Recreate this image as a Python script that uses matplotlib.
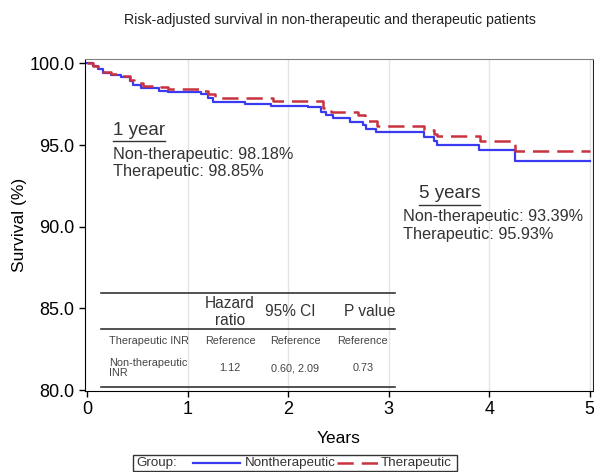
import numpy as np
import matplotlib.pyplot as plt
from matplotlib.lines import Line2D
from matplotlib.patches import Rectangle

plt.rcParams['font.family'] = ['Liberation Sans', 'DejaVu Sans']

# Kurva survival, step function
t_non = [0, 0.06, 0.11, 0.16, 0.24, 0.34, 0.43, 0.46, 0.54, 0.72, 0.81, 1.13, 1.20, 1.25,
         1.57, 1.83, 2.20, 2.33, 2.38, 2.45, 2.62, 2.75, 2.78, 2.87, 3.35, 3.45, 3.48,
         3.90, 4.26, 5.0]
s_non = [100, 99.83, 99.63, 99.42, 99.27, 99.15, 98.9, 98.7, 98.49, 98.32, 98.24, 98.12, 97.87, 97.62,
         97.5, 97.39, 97.3, 97.04, 96.83, 96.63, 96.42, 96.2, 96.0, 95.8, 95.48, 95.24, 95.03,
         94.72, 94.02, 94.02]

t_ther = [0, 0.06, 0.11, 0.16, 0.24, 0.34, 0.43, 0.47, 0.56, 0.74, 0.81, 1.12, 1.20, 1.27,
          1.85, 2.35, 2.43, 2.70, 2.77, 2.88, 3.35, 3.45, 3.48, 3.91, 4.26, 5.0]
s_ther = [100, 99.86, 99.68, 99.48, 99.33, 99.2, 99.0, 98.8, 98.63, 98.55, 98.43, 98.28, 98.12, 97.87,
          97.68, 97.25, 97.0, 96.83, 96.5, 96.15, 95.94, 95.7, 95.53, 95.24, 94.64, 94.64]

# Anotasi
one_year = ["Non-therapeutic: 98.18%", "Therapeutic: 98.85%"]
five_year = ["Non-therapeutic: 93.39%", "Therapeutic: 95.93%"]

# Tabel hazard ratio
tbl_header = ["Hazard\nratio", "95% CI", "P value"]
tbl_rows = ["Therapeutic INR", "Non-therapeutic\nINR"]
tbl_hr = ["Reference", "1.12"]
tbl_ci = ["Reference", "0.60, 2.09"]
tbl_p = ["Reference", "0.73"]

blue = '#3a3af0'
red = '#c8323f'

fig = plt.figure(figsize=(5.94, 4.72), dpi=100)
ax = fig.add_axes([0.1431, 0.1716, 0.8547, 0.7028])

ax.step(t_non, s_non, where='post', color=blue, lw=1.6)
ax.step(t_ther, s_ther, where='post', color=red, lw=1.8, dashes=(6.5, 3.2))

ax.set_xlim(-0.02, 5.03)
ax.set_ylim(79.94, 100.25)
ax.set_xticks([0, 1, 2, 3, 4, 5])
ax.set_yticks([80, 85, 90, 95, 100])
ax.set_yticklabels(['%.1f' % v for v in [80, 85, 90, 95, 100]])
for xv in [1, 2, 3, 4, 5]:
    ax.axvline(xv, color='#e4e4e4', lw=1, zorder=0)
ax.tick_params(labelsize=13, length=4, width=1, direction='out')
ax.set_xlabel('Years', fontsize=12.5, labelpad=9)
ax.set_ylabel('Survival (%)', fontsize=12.5, labelpad=2)
ax.spines['top'].set_color('#808080')
ax.spines['right'].set_color('#222222')

fig.text(0.5556, 0.958, 'Risk-adjusted survival in non-therapeutic and therapeutic patients',
         ha='center', va='center', fontsize=10.2, color='#222222')

# 1 tahun
ax.text(0.0552, 0.784, '1 year', transform=ax.transAxes, fontsize=13.5, color='#333333', va='center')
ax.plot([0.0552, 0.1576], [0.753, 0.753], transform=ax.transAxes, color='#333333', lw=1)
ax.text(0.0557, 0.7115, one_year[0], transform=ax.transAxes, fontsize=11.7, color='#333333', va='center')
ax.text(0.0557, 0.661, one_year[1], transform=ax.transAxes, fontsize=11.7, color='#333333', va='center')

# 5 tahun
ax.text(0.658, 0.594, '5 years', transform=ax.transAxes, fontsize=13.5, color='#333333', va='center')
ax.plot([0.658, 0.778], [0.561, 0.561], transform=ax.transAxes, color='#333333', lw=1)
ax.text(0.627, 0.5255, five_year[0], transform=ax.transAxes, fontsize=11.7, color='#333333', va='center')
ax.text(0.627, 0.4703, five_year[1], transform=ax.transAxes, fontsize=11.7, color='#333333', va='center')

# Tabel
for yl in [0.2954, 0.187, 0.012]:
    ax.plot([0.031, 0.6106], [yl, yl], transform=ax.transAxes, color='#333333', lw=1.2)
hx = [0.2856, 0.405, 0.5614]
for x, h in zip(hx, tbl_header):
    ax.text(x, 0.239, h, transform=ax.transAxes, ha='center', va='center', fontsize=11.2,
            color='#333333', linespacing=1.15)
row_y = [0.1507, 0.0693]
col_x = [0.2856, 0.414, 0.547]
for i, y in enumerate(row_y):
    ax.text(0.0473, y, tbl_rows[i], transform=ax.transAxes, ha='left', va='center', fontsize=7.8,
            color='#444444', linespacing=0.9)
    for x, col in zip(col_x, [tbl_hr, tbl_ci, tbl_p]):
        ax.text(x, y, col[i], transform=ax.transAxes, ha='center', va='center', fontsize=7.8,
                color='#444444')

# Legenda
fig.patches.append(Rectangle((0.2239, 0.003), 0.5455, 0.034, transform=fig.transFigure,
                             fill=False, edgecolor='#333333', lw=1))
fig.text(0.229, 0.02, 'Group:', fontsize=9.6, va='center', color='#333333')
fig.lines.append(Line2D([0.325, 0.404], [0.02, 0.02], transform=fig.transFigure, color=blue, lw=1.6))
fig.text(0.4125, 0.02, 'Nontherapeutic', fontsize=9.6, va='center', color='#333333')
fig.lines.append(Line2D([0.567, 0.636], [0.02, 0.02], transform=fig.transFigure, color=red, lw=1.8,
                        dashes=(6.5, 3.2)))
fig.text(0.64, 0.02, 'Therapeutic', fontsize=9.6, va='center', color='#333333')

fig.savefig('out.png', dpi=100)
